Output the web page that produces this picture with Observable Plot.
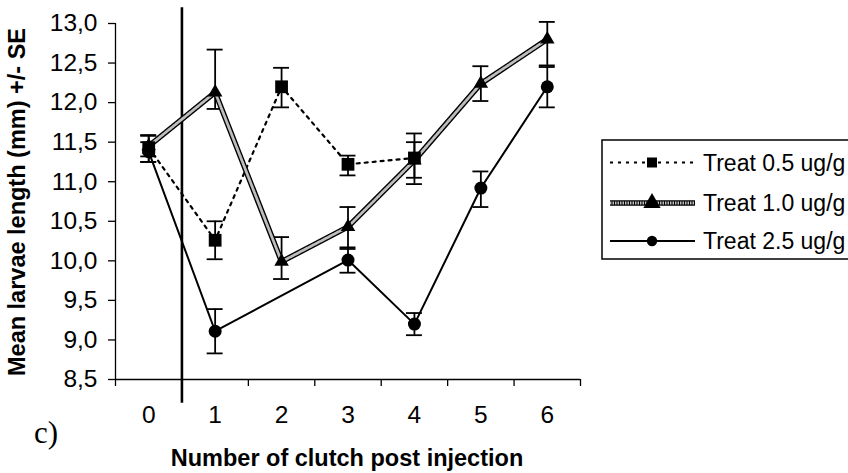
<!DOCTYPE html>
<html>
<head>
<meta charset="utf-8">
<script src="https://cdn.jsdelivr.net/npm/d3@7"></script>
<script src="https://cdn.jsdelivr.net/npm/@observablehq/plot@0.6"></script>
<style>
  html, body { margin: 0; padding: 0; background: #fff; }
  #chart svg { display: block; }
</style>
</head>
<body>
<div id="chart"></div>
<script>
// ---- Data ----
const clutch = [0, 1, 2, 3, 4, 5, 6];
const seriesNames = ["Treat 0.5 ug/g", "Treat 1.0 ug/g", "Treat 2.5 ug/g"];

const treat05Mean = [11.43, 10.26, 12.20, 11.22, 11.30, null, null];
const treat05Low  = [11.25, 10.02, 11.94, 11.08, 10.97, null, null];
const treat05High = [11.59, 10.50, 12.44, 11.33, 11.61, null, null];

const treat10Mean = [11.45, 12.13, 9.99, 10.43, 11.27, 12.24, 12.80];
const treat10Low  = [11.32, 11.92, 9.77, 10.17, 11.05, 12.02, 12.47];
const treat10High = [11.58, 12.67, 10.30, 10.68, 11.50, 12.46, 13.02];

const treat25Mean = [11.38, 9.11, null, 10.01, 9.20, 10.92, 12.20];
const treat25Low  = [11.25, 8.83, null, 9.85, 9.06, 10.68, 11.94];
const treat25High = [11.50, 9.39, null, 10.15, 9.34, 11.13, 12.45];

const yTicks = [8.5, 9.0, 9.5, 10.0, 10.5, 11.0, 11.5, 12.0, 12.5, 13.0];
const xBoundaries = [-0.5, 0.5, 1.5, 2.5, 3.5, 4.5, 5.5, 6.5];
const xDomain = [-0.5, 6.5];
const yDomain = [8.5, 13.0];
const injectionAt = [0.5];          // vertical marker between clutch 0 and 1
const injectionSpan = [8.2, 13.2];  // extends a little beyond the axis range

const yTitle = "Mean larvae length (mm) +/- SE";
const xTitle = "Number of clutch post injection";
const panelLabel = "c)";

// ---- Build tables ----
function rows(mean, lo, hi) {
  return clutch.map((c, i) => ({clutch: c, mean: mean[i], lo: lo[i], hi: hi[i]}))
               .filter(d => d.mean != null);
}
const s05 = rows(treat05Mean, treat05Low, treat05High);
const s10 = rows(treat10Mean, treat10Low, treat10High);
const s25 = rows(treat25Mean, treat25Low, treat25High);

const capHalf = 0.12;
function errMarks(data) {
  return [
    Plot.ruleX(data, {x: "clutch", y1: "lo", y2: "hi", stroke: "black", strokeWidth: 1.8}),
    Plot.ruleY(data, {x1: d => d.clutch - capHalf, x2: d => d.clutch + capHalf, y: "lo", stroke: "black", strokeWidth: 1.8}),
    Plot.ruleY(data, {x1: d => d.clutch - capHalf, x2: d => d.clutch + capHalf, y: "hi", stroke: "black", strokeWidth: 1.8})
  ];
}

const font = "'Liberation Sans', Arial, sans-serif";
const hatchGrey = "#bdbdbd";

const chart = Plot.plot({
  width: 848,
  height: 473,
  marginLeft: 115,
  marginRight: 268,
  marginTop: 23,
  marginBottom: 94,
  x: {domain: xDomain, label: null},
  y: {domain: yDomain, label: null},
  style: {fontFamily: font, fontSize: "24px", color: "black", background: "white", overflow: "visible"},
  marks: [
    // axes
    Plot.axisY(yTicks, {tickSize: 7, tickPadding: 11, strokeWidth: 1.3, tickFormat: d => d.toFixed(1).replace(".", ","), label: null}),
    Plot.axisX(xBoundaries, {tickSize: 7, strokeWidth: 1.3, tickFormat: () => "", label: null}),
    Plot.axisX(clutch, {tickSize: 0, tickPadding: 26, label: null}),
    Plot.ruleX([xDomain[0]], {y1: yDomain[0], y2: yDomain[1], stroke: "black", strokeWidth: 1.3}),
    Plot.ruleY([yDomain[0]], {x1: xDomain[0], x2: xDomain[1], stroke: "black", strokeWidth: 1.3}),
    // injection line
    Plot.ruleX(injectionAt, {y1: injectionSpan[0], y2: injectionSpan[1], stroke: "black", strokeWidth: 2.6}),
    // error bars
    ...errMarks(s25),
    ...errMarks(s10),
    ...errMarks(s05),
    // lines
    Plot.line(s25, {x: "clutch", y: "mean", stroke: "black", strokeWidth: 2}),
    Plot.line(s05, {x: "clutch", y: "mean", stroke: "black", strokeWidth: 2.2, strokeDasharray: "3,5"}),
    Plot.line(s10, {x: "clutch", y: "mean", stroke: "black", strokeWidth: 5.5}),
    Plot.line(s10, {x: "clutch", y: "mean", stroke: hatchGrey, strokeWidth: 2.8, strokeDasharray: "1.5,1"}),
    // markers
    Plot.dot(s10, {x: "clutch", y: "mean", symbol: "triangle", r: 5.4, fill: "black", stroke: "none"}),
    Plot.dot(s25, {x: "clutch", y: "mean", symbol: "circle", r: 6.5, fill: "black", stroke: "none"}),
    Plot.dot(s05, {x: "clutch", y: "mean", symbol: "square", r: 7.2, fill: "black", stroke: "none"})
  ]
});

document.getElementById("chart").appendChild(chart);

// enlarge the axis tick labels (the only texts Plot drew)
chart.querySelectorAll("text").forEach(t => {
  t.style.fontSize = "24.5px";
  t.style.fontFamily = font;
});

// ---- Titles, panel label and legend ----
const svg = d3.select(chart);

svg.append("text")
  .attr("transform", "translate(25,202) rotate(-90)")
  .attr("text-anchor", "middle")
  .attr("font-family", font).attr("font-size", 23.5).attr("font-weight", "bold")
  .attr("fill", "black")
  .text(yTitle);

svg.append("text")
  .attr("x", 347).attr("y", 466)
  .attr("text-anchor", "middle")
  .attr("font-family", font).attr("font-size", 23.5).attr("font-weight", "bold")
  .attr("fill", "black")
  .text(xTitle);

svg.append("text")
  .attr("x", 34).attr("y", 443)
  .attr("text-anchor", "start")
  .attr("font-family", "'Liberation Serif', 'Times New Roman', serif").attr("font-size", 31)
  .attr("fill", "black")
  .text(panelLabel);

const legend = svg.append("g");
legend.append("rect")
  .attr("x", 602).attr("y", 140).attr("width", 260).attr("height", 119)
  .attr("fill", "white").attr("stroke", "black").attr("stroke-width", 1.5);

const legendY = [162.5, 203, 241];
const sym = [d3.symbolSquare, d3.symbolTriangle, d3.symbolCircle];
const symSize = [100, 130, 85];
seriesNames.forEach((name, i) => {
  const g = legend.append("g").attr("transform", `translate(0,${legendY[i]})`);
  if (i === 0) {
    g.append("line").attr("x1", 610).attr("x2", 695).attr("y1", 0).attr("y2", 0)
      .attr("stroke", "black").attr("stroke-width", 2.2).attr("stroke-dasharray", "3,5");
  } else if (i === 1) {
    g.append("line").attr("x1", 610).attr("x2", 695).attr("y1", 0).attr("y2", 0)
      .attr("stroke", "black").attr("stroke-width", 5.5);
    g.append("line").attr("x1", 610).attr("x2", 695).attr("y1", 0).attr("y2", 0)
      .attr("stroke", hatchGrey).attr("stroke-width", 2.8).attr("stroke-dasharray", "1.5,1");
  } else {
    g.append("line").attr("x1", 610).attr("x2", 695).attr("y1", 0).attr("y2", 0)
      .attr("stroke", "black").attr("stroke-width", 2);
  }
  g.append("path").attr("transform", "translate(652,0)")
    .attr("d", d3.symbol(sym[i], symSize[i])()).attr("fill", "black");
  g.append("text").attr("x", 703).attr("y", 0).attr("dy", "0.35em")
    .attr("text-anchor", "start")
    .attr("font-family", font).attr("font-size", 23).attr("fill", "black")
    .text(name);
});
</script>
</body>
</html>
